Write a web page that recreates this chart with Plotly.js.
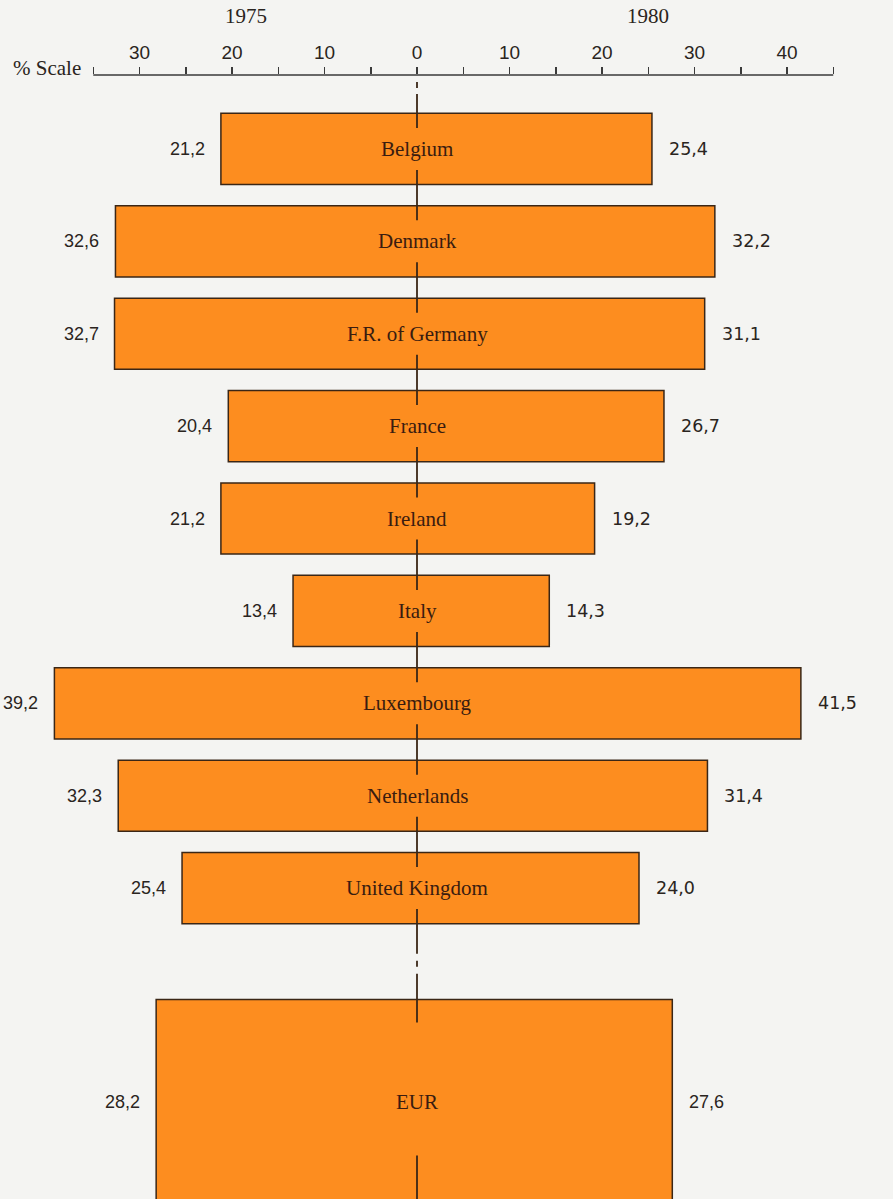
<!DOCTYPE html>
<html>
<head>
<meta charset="utf-8">
<script src="https://cdn.plot.ly/plotly-3.0.1.min.js"></script>
<style>
  html, body { margin: 0; padding: 0; background: #f4f4f2; }
  #chart { width: 893px; height: 1199px; }
</style>
</head>
<body>
<div id="chart"></div>
<script>
// ---- data ----
const countries = ["Belgium", "Denmark", "F.R. of Germany", "France", "Ireland",
                   "Italy", "Luxembourg", "Netherlands", "United Kingdom", "EUR"];
const values1975 = [21.2, 32.6, 32.7, 20.4, 21.2, 13.4, 39.2, 32.3, 25.4, 28.2];
const values1980 = [25.4, 32.2, 31.1, 26.7, 19.2, 14.3, 41.5, 31.4, 24.0, 27.6];
const yearLabels = ["1975", "1980"];
const tickVals = [-35, -30, -25, -20, -15, -10, -5, 0, 5, 10, 15, 20, 25, 30, 35, 40, 45];
const tickLabels = ["", "30", "", "20", "", "10", "", "0", "", "10", "", "20", "", "30", "", "40", ""];

// ---- layout helpers ----
const W = 893, H = 1199, TOP = 75;
const PXU = 92.4;                 // px per row unit
const yTop = -0.8;                // data y at axis line
const yBottom = yTop + (H - TOP) / PXU;
const pyToY = py => yTop + (py - TOP) / PXU;
const pxPerX = 9.25;
const xLeft = -417 / pxPerX, xRight = (W - 417) / pxPerX;

const rowPos = countries.map((c, i) => (c === "EUR" ? i + 1.32 : i));
const rowWidth = countries.map(c => (c === "EUR" ? 2.23 : 0.77));
const fmt = v => v.toFixed(1).replace(".", ",");

const ORANGE = "#fd8d1f";
const EDGE = "#3a2616";
const TXT = "#2a2420";
const SERIF = "Liberation Serif, Times New Roman, serif";

const barTrace = {
  type: "bar",
  orientation: "h",
  y: rowPos,
  base: values1975.map(v => -v),
  x: values1975.map((v, i) => v + values1980[i]),
  width: rowWidth,
  marker: { color: ORANGE, line: { color: EDGE, width: 1.5 } },
  hoverinfo: "skip",
  showlegend: false
};

// ---- annotations ----
const ann = [];
countries.forEach((c, i) => {
  const yc = rowPos[i];
  ann.push({ x: 0, y: yc, xref: "x", yref: "y", text: c, showarrow: false,
             font: { family: SERIF, size: 21, color: "#3a1c10" },
             xanchor: "center", yanchor: "middle" });
  ann.push({ x: -values1975[i], y: yc, xref: "x", yref: "y", text: fmt(values1975[i]),
             showarrow: false, xanchor: "right", yanchor: "middle", xshift: -14,
             font: { family: "Liberation Sans, Arial, sans-serif", size: 18, color: TXT } });
  ann.push({ x: values1980[i], y: yc, xref: "x", yref: "y", text: fmt(values1980[i]),
             showarrow: false, xanchor: "left", yanchor: "middle", xshift: 15,
             font: { family: c === "EUR" ? "Liberation Sans, Arial, sans-serif" : "DejaVu Sans, sans-serif",
                     size: c === "EUR" ? 18 : 17.5, color: TXT } });
});
ann.push({ x: 246 / W, y: 1 + (TOP - 16) / (H - TOP), xref: "paper", yref: "paper",
           text: yearLabels[0], showarrow: false, xanchor: "center", yanchor: "middle",
           font: { family: SERIF, size: 21, color: TXT } });
ann.push({ x: 648 / W, y: 1 + (TOP - 16) / (H - TOP), xref: "paper", yref: "paper",
           text: yearLabels[1], showarrow: false, xanchor: "center", yanchor: "middle",
           font: { family: SERIF, size: 21, color: TXT } });
ann.push({ x: 83 / W, y: 1 + (TOP - 68) / (H - TOP), xref: "paper", yref: "paper",
           text: "% Scale", showarrow: false, xanchor: "right", yanchor: "middle",
           font: { family: SERIF, size: 21, color: TXT } });

// ---- center line segments (gaps around labels) ----
const gaps = [];
countries.forEach((c, i) => {
  if (c === "EUR") gaps.push([rowPos[i] - 80 / PXU, rowPos[i] + 53 / PXU]);
  else gaps.push([rowPos[i] - 21 / PXU, rowPos[i] + 21 / PXU]);
});
// dash-dot breaks between UK and EUR and at top
const ukBottom = rowPos[8] + rowWidth[8] / 2;
const extraGaps = [
  [pyToY(75), pyToY(82)], [pyToY(88), pyToY(94)],
  [ukBottom + 30 / PXU, ukBottom + 37 / PXU], [ukBottom + 43 / PXU, ukBottom + 50 / PXU]
];
const allGaps = gaps.concat(extraGaps).sort((a, b) => a[0] - b[0]);
const shapes = [];
let cur = pyToY(75);
allGaps.forEach(g => {
  if (g[0] > cur) shapes.push({ type: "line", xref: "x", yref: "y", x0: 0, x1: 0, y0: cur, y1: g[0],
                                line: { color: EDGE, width: 1.8 }, layer: "above" });
  cur = Math.max(cur, g[1]);
});
shapes.push({ type: "line", xref: "x", yref: "y", x0: 0, x1: 0, y0: cur, y1: yBottom,
              line: { color: EDGE, width: 1.8 }, layer: "above" });
// axis line
shapes.push({ type: "line", xref: "x", yref: "paper", x0: -35, x1: 45, y0: 1, y1: 1,
              line: { color: "#3a3a3a", width: 1.5 } });

const layout = {
  width: W, height: H,
  margin: { l: 0, r: 0, t: TOP, b: 0 },
  paper_bgcolor: "#f4f4f2",
  plot_bgcolor: "#f4f4f2",
  showlegend: false,
  xaxis: {
    range: [xLeft, xRight], side: "top", showgrid: false, zeroline: false, showline: false,
    tickmode: "array", tickvals: tickVals, ticktext: tickLabels,
    ticks: "outside", ticklen: 7, tickwidth: 1.5, tickcolor: "#3a3a3a",
    tickfont: { family: "Liberation Sans, Arial, sans-serif", size: 19, color: TXT },
    fixedrange: true
  },
  yaxis: {
    range: [yBottom, yTop], showgrid: false, zeroline: false, showline: false,
    showticklabels: false, ticks: "", fixedrange: true
  },
  annotations: ann,
  shapes: shapes
};

Plotly.newPlot("chart", [barTrace], layout, { displayModeBar: false, staticPlot: true });
</script>
</body>
</html>
